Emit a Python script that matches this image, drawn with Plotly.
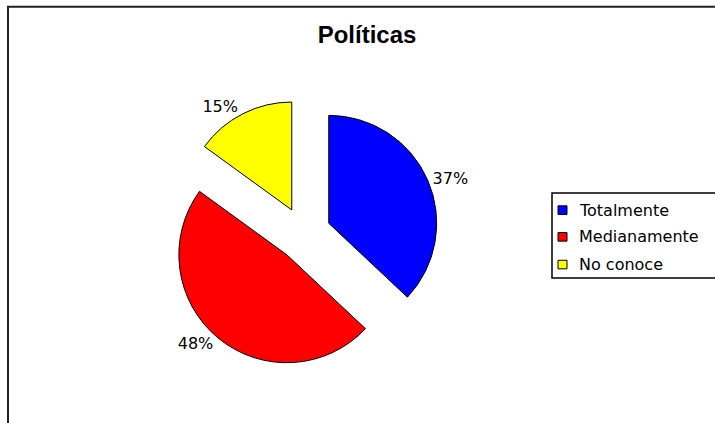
import plotly.graph_objects as go

# Survey answers for "Políticas"
categories = ["Totalmente", "Medianamente", "No conoce"]
values = [37, 48, 15]
colors = ["#0000FF", "#FF0000", "#FFFF00"]
title_text = "Políticas"

W, H = 715, 423


def px(x):
    return x / W


def py(y):
    return 1 - y / H


# Pie placement (pixels): centre and radius; plotly shrinks r by (1 + pull)
cx, cy, r, pull = 304, 245, 113, 0.25
half = r * (1 + pull)

fig = go.Figure(
    go.Pie(
        labels=categories,
        values=values,
        sort=False,
        direction="clockwise",
        rotation=0,
        pull=[pull] * len(values),
        marker=dict(colors=colors, line=dict(color="black", width=1)),
        textinfo="percent",
        textposition="outside",
        outsidetextfont=dict(family="DejaVu Sans", size=16, color="black"),
        domain=dict(x=[px(cx - half), px(cx + half)],
                    y=[py(cy + half), py(cy - half)]),
        showlegend=False,
        hoverinfo="label+percent",
    )
)

shapes = [
    # outer chart frame
    dict(type="rect", xref="paper", yref="paper",
         x0=px(8), x1=px(760), y0=py(470), y1=py(7),
         line=dict(color="#222222", width=2), fillcolor="rgba(0,0,0,0)"),
    # legend box
    dict(type="rect", xref="paper", yref="paper",
         x0=px(552), x1=px(760), y0=py(291), y1=py(202),
         line=dict(color="black", width=1.5), fillcolor="white"),
]
annotations = []
row_y = [220, 248, 277]
for name, col, yy in zip(categories, colors, row_y):
    shapes.append(dict(type="rect", xref="paper", yref="paper",
                       x0=px(558), x1=px(567), y0=py(yy + 4.5), y1=py(yy - 4.5),
                       line=dict(color="black", width=1), fillcolor=col))
    annotations.append(dict(text=name, xref="paper", yref="paper",
                            x=px(577), y=py(yy), xanchor="left", yanchor="middle",
                            showarrow=False,
                            font=dict(family="DejaVu Sans", size=16, color="black")))

fig.update_layout(
    width=W, height=H,
    margin=dict(l=0, r=0, t=0, b=0),
    paper_bgcolor="white",
    plot_bgcolor="white",
    title=dict(text="<b>" + title_text + "</b>", x=px(367), y=py(35),
               xanchor="center", yanchor="middle",
               font=dict(family="Liberation Sans, Arial", size=24, color="black")),
    shapes=shapes,
    annotations=annotations,
)

fig.write_html("out.html")
